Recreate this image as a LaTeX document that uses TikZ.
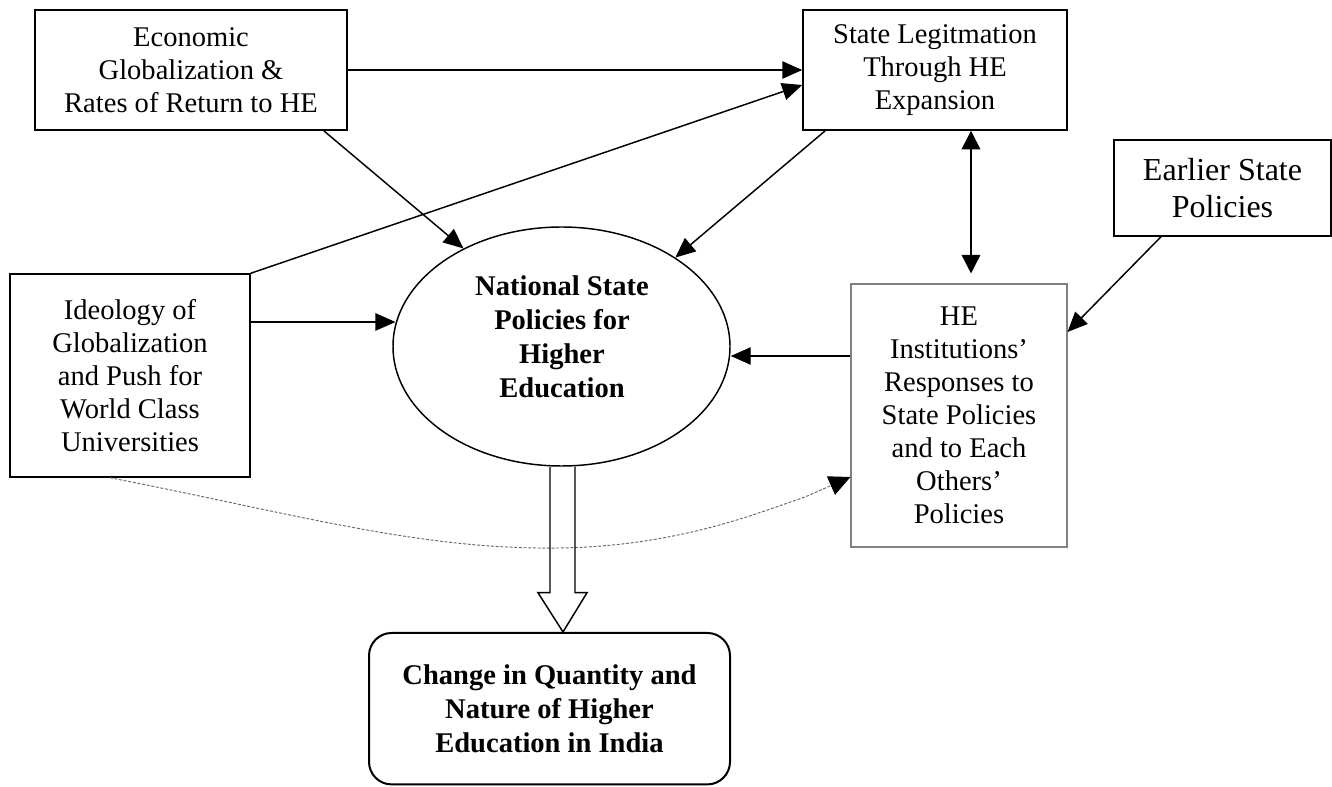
\documentclass[tikz,border=0pt]{standalone}
\usepackage{fontspec}
\setmainfont{Liberation Serif}
\usetikzlibrary{shapes.geometric,arrows.meta,calc}
\newcommand{\nfs}{\fontsize{21.4pt}{24.75pt}\selectfont}
\newcommand{\bfs}{\fontsize{21.4pt}{25.6pt}\selectfont\bfseries}
\newcommand{\efs}{\fontsize{24pt}{27.75pt}\selectfont}
\tikzset{
  box/.style={draw, line width=1.1pt, inner sep=0pt, align=center, font=\nfs},
  grbox/.style={draw=black!50, line width=0.8pt, inner sep=0pt, align=center, font=\nfs},
  arr/.style={-{Triangle[length=15pt,width=13pt]}, line width=1.1pt},
  darr/.style={{Triangle[length=14pt,width=14pt]}-{Triangle[length=14pt,width=14pt]}, line width=1.1pt},
  dotarr/.style={-{Triangle[length=16pt,width=15pt,color=black,fill=black]}, draw=black!60, line width=0.7pt, dash pattern=on 2.2pt off 1.3pt},
}
\begin{document}
\begin{tikzpicture}[x=0.75pt,y=-0.75pt]
\useasboundingbox (0,0) rectangle (1332,787);
% nodes
\node[box, minimum width=234pt, minimum height=90pt] (econ) at (191,70)
  {Economic\\Globalization \&\\Rates of Return to HE};
\node[box, minimum width=198pt, minimum height=90pt] (stl) at (935,70)
  {State Legitmation\\Through HE\\Expansion};
\node[box, font=\efs, minimum width=162.75pt, minimum height=72pt] (esp) at (1222.5,188)
  {Earlier State\\Policies};
\node[box, minimum width=180pt, minimum height=152.25pt] (ideo) at (130,375.5)
  {Ideology of\\Globalization\\and Push for\\World Class\\Universities};
\node[grbox, minimum width=162pt, minimum height=197.25pt] (he) at (959,415.5)
  {HE\\Institutions’\\Responses to\\State Policies\\and to Each\\Others’\\Policies};
\node[draw, ellipse, line width=1.1pt, inner sep=0pt, minimum width=252.75pt, minimum height=179.25pt] (nsp) at (561.5,346.5) {};
\node[font=\bfs, align=center, inner sep=0pt] (nsptext) at (562,337)
  {National State\\Policies for\\Higher\\Education};
\node[draw, line width=1.5pt, rounded corners=17pt, inner sep=0pt, align=center, font=\bfs,
      minimum width=270.75pt, minimum height=113.6pt] (chg) at (549.5,708.7)
  {Change in Quantity and\\Nature of Higher\\Education in India};
% helper coordinates
\coordinate (i2) at (ideo.north east);
\coordinate (s2) at ($(stl.west)+(0,15)$);
\coordinate (e3) at ($(econ.south east)+(-24,0)$);
\coordinate (s4) at ($(stl.south west)+(23,0)$);
\coordinate (i5) at ($(ideo.east)+(0,-53.5)$);
\coordinate (h8) at ($(he.west)+(0,-59.5)$);
\coordinate (d1) at ($(stl.south)+(36,0)$);
\coordinate (d2) at ($(he.north)+(12,-10)$);
\coordinate (ep7) at ($(esp.south)+(-61.5,0)$);
\coordinate (h7) at ($(he.east)+(0,-83.5)$);
\coordinate (c0) at ($(ideo.south)+(-20,0)$);
\coordinate (c9) at ($(he.west)+(0,61.5)$);
% connectors
\draw[arr] (econ.east) -- (stl.west);
\draw[arr] (i2) -- (s2);
\draw[arr] (e3) -- (nsp.135);
\draw[arr] (s4) -- (nsp.38);
\draw[arr] (i5) -- (i5 -| nsp.172);
\draw[arr] (h8) -- (h8 -| nsp.east);
\draw[darr] (d1) -- (d1 |- d2);
\draw[arr] (ep7) -- (h7);
\draw[dotarr] (c0) .. controls (300,515) and (420,550) .. (560,548)
  .. controls (680,546) and (760,512) .. (805,497) -- (c9);
% hollow arrow
\draw[line width=1.1pt, line join=miter]
  ($(nsp.south)+(-11.5,0)$) -- ($(nsp.south)+(-11.5,126)$) -- ($(nsp.south)+(-23.5,126)$)
  -- (chg.north -| 563,0) -- ($(nsp.south)+(25.5,126)$) -- ($(nsp.south)+(13.5,126)$)
  -- ($(nsp.south)+(13.5,0)$);
\end{tikzpicture}
\end{document}
